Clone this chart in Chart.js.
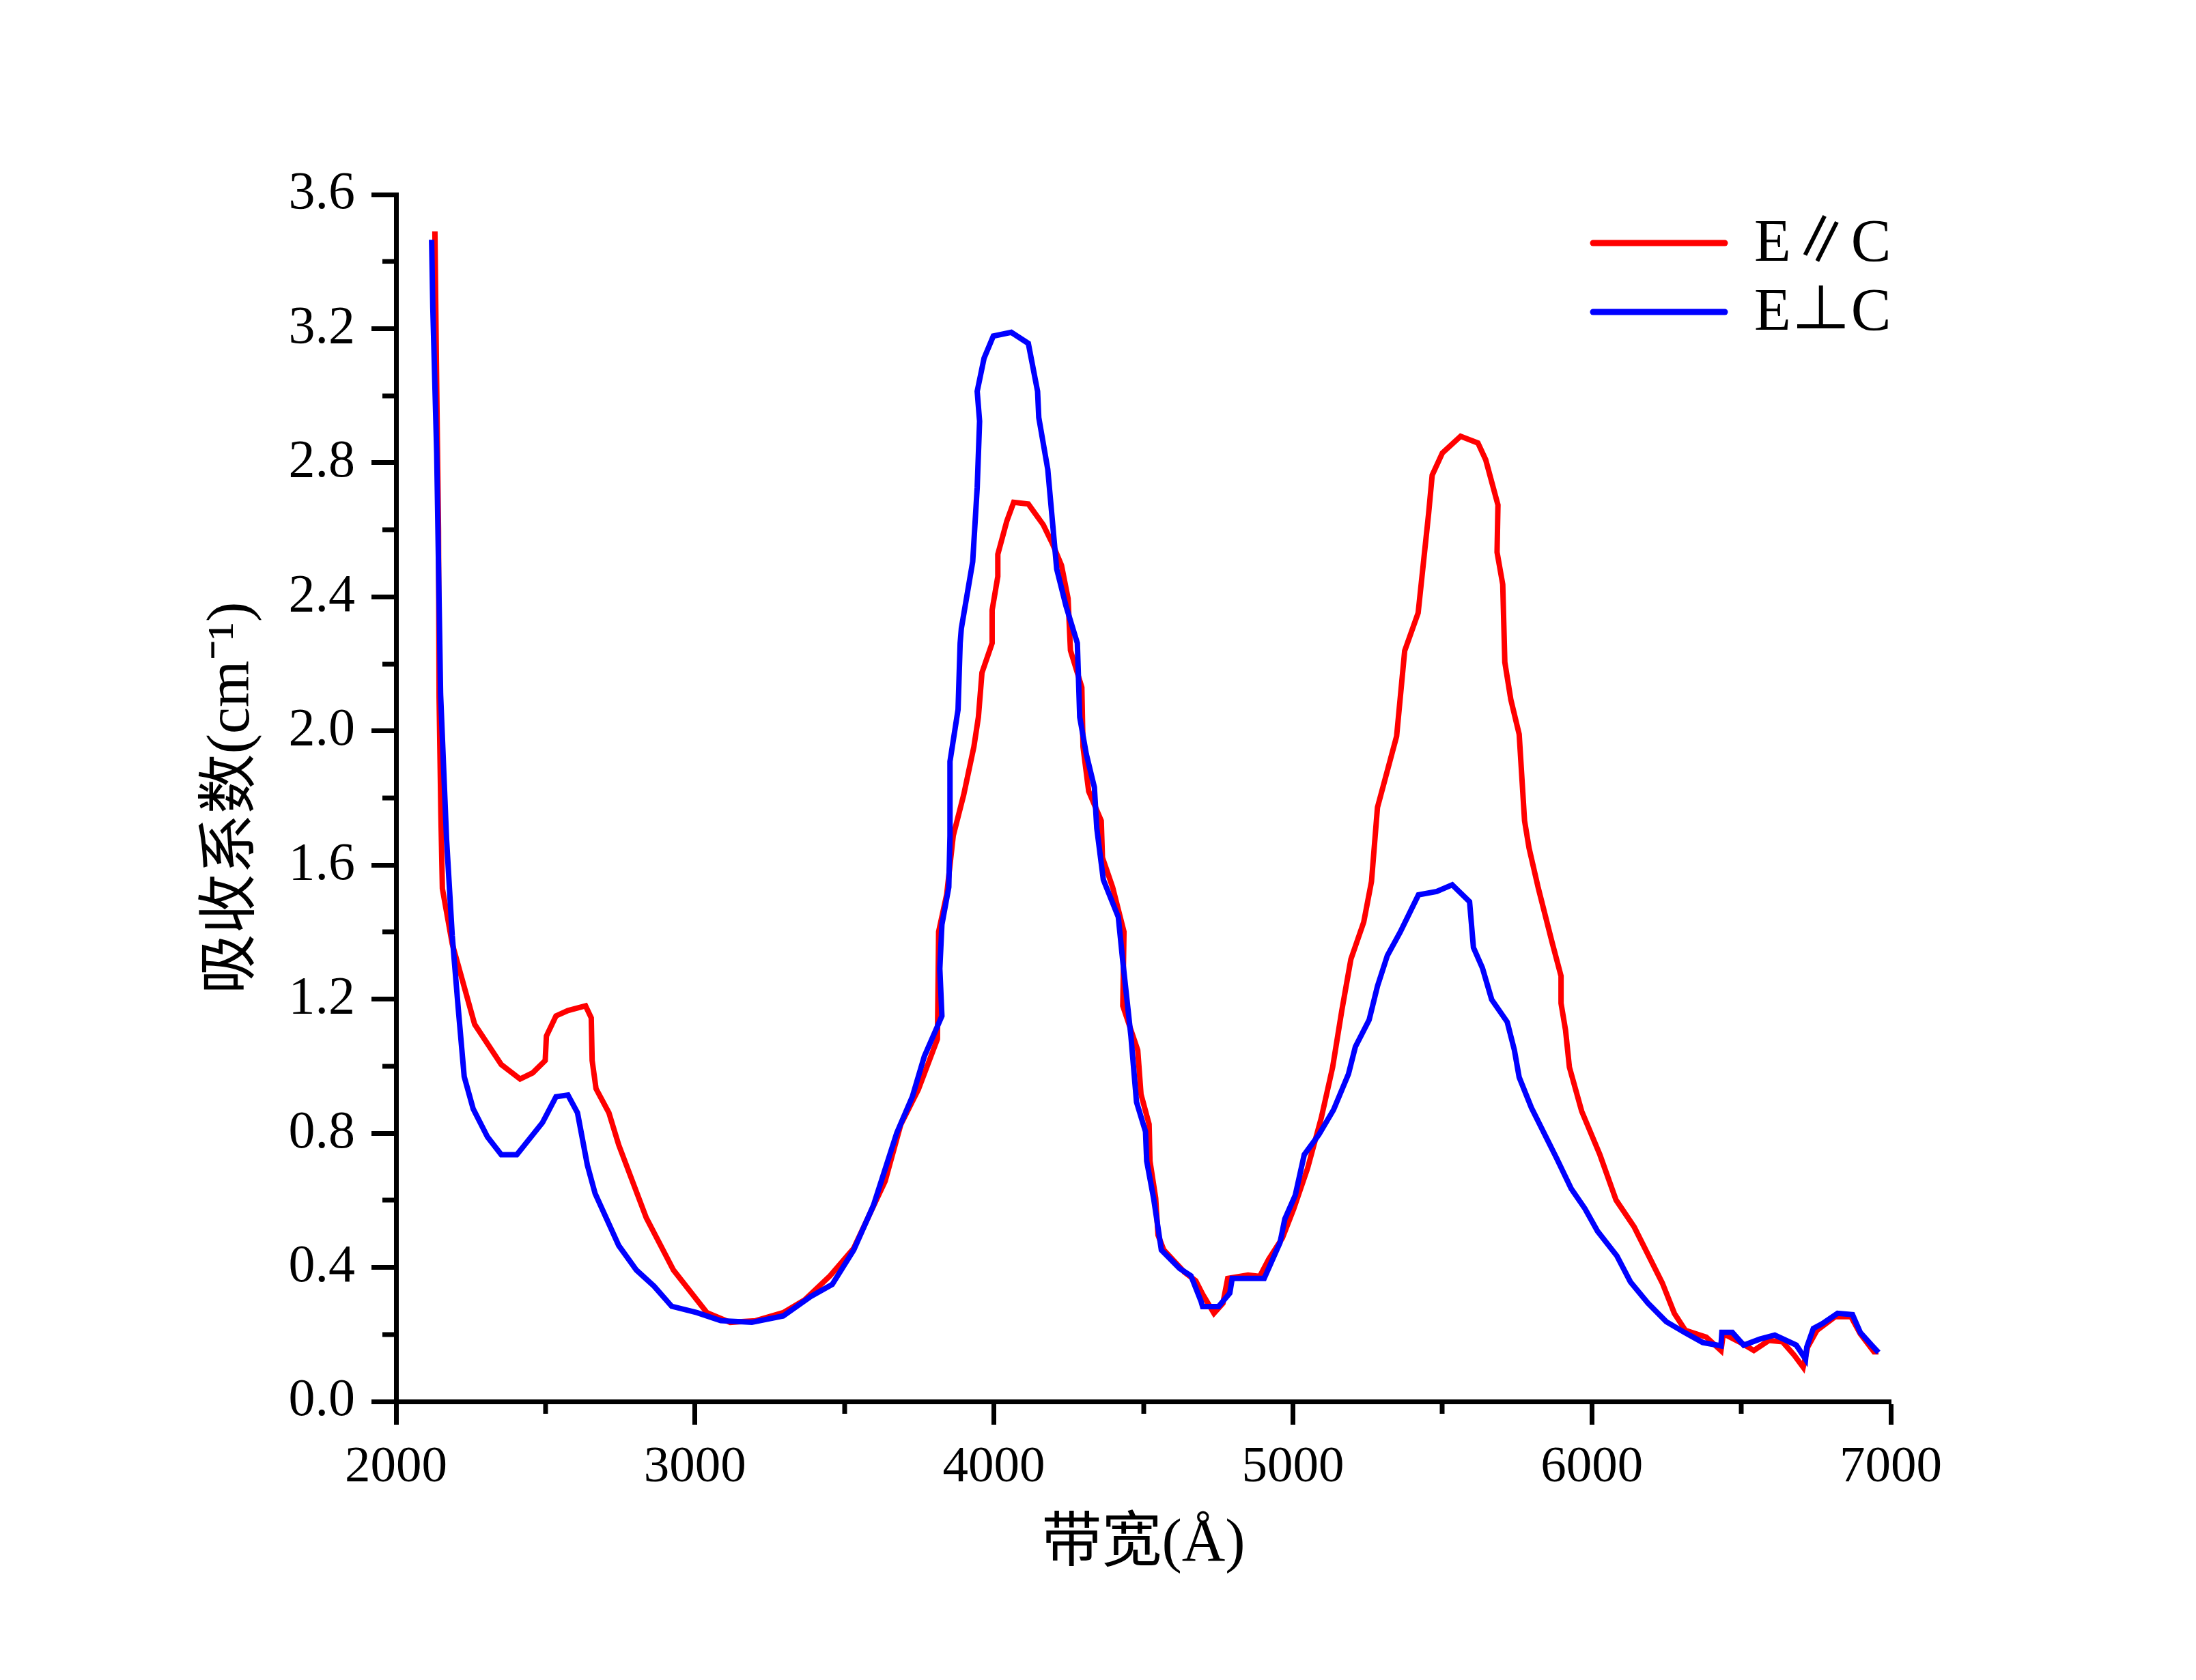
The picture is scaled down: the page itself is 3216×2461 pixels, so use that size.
<!DOCTYPE html>
<html lang="zh">

<head>
    <meta charset="UTF-8">
    <title>吸收系数</title>
    <script src="https://cdn.jsdelivr.net/npm/chart.js"></script>
    <style>
        body { margin: 0; background: #fff; }
    </style>
</head>

<body>
    <canvas id="absChart" width="3216" height="2461"></canvas>
    <script>
        // E//C
        const parX = [2130, 2135, 2142, 2144, 2150, 2155, 2188, 2263, 2352, 2415, 2457, 2499, 2503, 2535, 2575, 2634, 2653, 2656, 2669, 2712,
            2745, 2837, 2928, 3040, 3118, 3203, 3295, 3367, 3452, 3531, 3636, 3688, 3747, 3811, 3815, 3842, 3864, 3899, 3933, 3948,
            3960, 3994, 3994, 4013, 4013, 4043, 4066, 4115, 4165, 4195, 4226, 4248, 4256, 4294, 4298, 4317, 4359, 4363, 4397, 4435,
            4431, 4481, 4492, 4519, 4522, 4541, 4549, 4568, 4637, 4675, 4698, 4736, 4766, 4782, 4850, 4889, 4919, 4965, 5003, 5049,
            5095, 5133, 5164, 5194, 5237, 5263, 5283, 5347, 5374, 5419, 5454, 5466, 5500, 5561, 5619, 5645, 5686, 5683, 5702, 5709,
            5729, 5757, 5775, 5790, 5821, 5867, 5897, 5897, 5912, 5925, 5966, 6027, 6081, 6142, 6236, 6276, 6313, 6383, 6432, 6440,
            6493, 6542, 6592, 6638, 6677, 6707, 6722, 6753, 6814, 6867, 6898, 6944, 6959];
        const parY = [3.49, 3.1, 2.6, 2.1, 1.75, 1.53, 1.365, 1.125, 1.005, 0.962, 0.98, 1.017, 1.09, 1.15, 1.166, 1.18, 1.144, 1.017, 0.933, 0.861,
            0.765, 0.548, 0.392, 0.265, 0.236, 0.241, 0.265, 0.303, 0.375, 0.457, 0.657, 0.825, 0.93, 1.081, 1.401, 1.512, 1.688, 1.81, 1.953, 2.041,
            2.174, 2.262, 2.361, 2.461, 2.527, 2.626, 2.682, 2.677, 2.615, 2.56, 2.494, 2.395, 2.24, 2.13, 1.953, 1.82, 1.732, 1.622, 1.534, 1.401,
            1.18, 1.048, 0.916, 0.827, 0.717, 0.607, 0.496, 0.452, 0.386, 0.36, 0.32, 0.263, 0.293, 0.367, 0.377, 0.373, 0.424, 0.488, 0.575, 0.695,
            0.846, 0.997, 1.168, 1.319, 1.43, 1.551, 1.772, 1.984, 2.239, 2.352, 2.648, 2.763, 2.829, 2.879, 2.859, 2.809, 2.674, 2.533, 2.437, 2.205,
            2.094, 1.99, 1.732, 1.651, 1.531, 1.37, 1.269, 1.188, 1.108, 0.997, 0.866, 0.736, 0.601, 0.52, 0.353, 0.263, 0.212, 0.192, 0.152, 0.202,
            0.178, 0.152, 0.182, 0.178, 0.138, 0.102, 0.162, 0.212, 0.253, 0.253, 0.202, 0.148, 0.148];

        // E⊥C
        const perpX = [2119, 2123, 2136, 2149, 2169, 2188, 2208, 2228, 2258, 2306, 2352, 2404, 2490, 2535, 2575, 2607, 2640, 2666, 2745, 2804,
            2863, 2922, 3007, 3086, 3190, 3295, 3387, 3459, 3531, 3597, 3675, 3727, 3767, 3826, 3819, 3826, 3849, 3853, 3853, 3880,
            3887, 3891, 3929, 3944, 3952, 3944, 3967, 3998, 4058, 4115, 4146, 4150, 4180, 4210, 4241, 4279, 4287, 4309, 4336, 4344,
            4366, 4416, 4431, 4458, 4477, 4507, 4511, 4534, 4560, 4621, 4659, 4693, 4698, 4751, 4789, 4797, 4904, 4957, 4973, 5008,
            5038, 5087, 5136, 5186, 5209, 5255, 5283, 5316, 5359, 5420, 5481, 5533, 5591, 5604, 5634, 5665, 5717, 5741, 5757, 5798,
            5882, 5931, 5977, 6019, 6084, 6129, 6188, 6249, 6310, 6371, 6432, 6435, 6470, 6508, 6562, 6612, 6684, 6715, 6719, 6741,
            6771, 6822, 6872, 6898, 6936, 6959];
        const perpY = [3.465, 3.263, 2.83, 2.11, 1.677, 1.389, 1.173, 0.969, 0.873, 0.789, 0.736, 0.736, 0.832, 0.909, 0.914, 0.861, 0.705, 0.62, 0.465, 0.392,
            0.344, 0.284, 0.265, 0.241, 0.236, 0.255, 0.313, 0.349, 0.452, 0.585, 0.801, 0.909, 1.029, 1.15, 1.291, 1.423, 1.534, 1.688, 1.909, 2.064,
            2.262, 2.306, 2.505, 2.726, 2.924, 3.013, 3.112, 3.178, 3.189, 3.156, 3.013, 2.935, 2.781, 2.483, 2.373, 2.262, 2.041, 1.931, 1.832, 1.71,
            1.556, 1.445, 1.313, 1.092, 0.893, 0.805, 0.717, 0.607, 0.452, 0.397, 0.375, 0.298, 0.283, 0.283, 0.323, 0.367, 0.367, 0.474, 0.544, 0.615,
            0.736, 0.796, 0.87, 0.977, 1.058, 1.138, 1.239, 1.33, 1.4, 1.511, 1.521, 1.541, 1.491, 1.354, 1.293, 1.199, 1.132, 1.048, 0.967, 0.876,
            0.726, 0.635, 0.575, 0.508, 0.434, 0.357, 0.293, 0.238, 0.206, 0.176, 0.166, 0.206, 0.206, 0.168, 0.186, 0.198, 0.168, 0.126, 0.162, 0.218,
            0.232, 0.263, 0.259, 0.206, 0.168, 0.146];

        const seriesNames = ['E∥C', 'E⊥C'];
        const seriesColors = ['#ff0000', '#0000ff'];

        const fontFamily = "'Liberation Serif', 'Noto Sans CJK SC', serif";

        const toPoints = (xs, ys) => xs.map((x, i) => ({ x: x, y: ys[i] }));

        const isMajorX = v => v % 1000 === 0;
        const isMajorY = v => Math.round(v * 10) % 4 === 0;

        // short ticks between the labelled ones
        const minorTicks = {
            id: 'minorTicks',
            afterDraw(chart) {
                const ctx = chart.ctx;
                const xs = chart.scales.x, ys = chart.scales.y;
                ctx.save();
                ctx.strokeStyle = '#000';
                ctx.lineWidth = 7;
                xs.ticks.filter(t => !isMajorX(t.value)).forEach(t => {
                    const px = Math.round(xs.getPixelForValue(t.value));
                    ctx.beginPath();
                    ctx.moveTo(px, xs.top);
                    ctx.lineTo(px, xs.top + 18);
                    ctx.stroke();
                });
                ys.ticks.filter(t => !isMajorY(t.value)).forEach(t => {
                    const py = Math.round(ys.getPixelForValue(t.value));
                    ctx.beginPath();
                    ctx.moveTo(ys.right, py);
                    ctx.lineTo(ys.right - 20, py);
                    ctx.stroke();
                });
                ctx.restore();
            }
        };

        // legend drawn inside the plot, top right
        const innerLegend = {
            id: 'innerLegend',
            afterDraw(chart) {
                const ctx = chart.ctx;
                const area = chart.chartArea;
                const x0 = area.right - 436, x1 = area.right - 243, tx = area.right - 200;
                ctx.save();
                ctx.font = '88px ' + fontFamily;
                ctx.textBaseline = 'middle';
                ctx.fillStyle = '#000';
                chart.data.datasets.forEach((ds, i) => {
                    const y = area.top + 71 + i * 101;
                    ctx.strokeStyle = ds.borderColor;
                    ctx.lineWidth = 9;
                    ctx.lineCap = 'round';
                    ctx.beginPath();
                    ctx.moveTo(x0, y);
                    ctx.lineTo(x1, y);
                    ctx.stroke();
                    ctx.fillText(ds.label, tx, y + 3);
                });
                ctx.restore();
            }
        };

        const data = {
            datasets: [{
                label: seriesNames[0],
                data: toPoints(parX, parY),
                borderColor: seriesColors[0],
                order: 2
            }, {
                label: seriesNames[1],
                data: toPoints(perpX, perpY),
                borderColor: seriesColors[1],
                order: 1
            }]
        };

        const config = {
            type: 'line',
            data: data,
            options: {
                responsive: false,
                animation: false,
                devicePixelRatio: 1,
                layout: {
                    padding: { left: 288, right: 447, top: 285, bottom: 145 }
                },
                elements: {
                    line: { borderWidth: 8, tension: 0, fill: false },
                    point: { radius: 0 }
                },
                plugins: {
                    legend: { display: false },
                    tooltip: { enabled: false }
                },
                scales: {
                    x: {
                        type: 'linear',
                        min: 2000,
                        max: 7000,
                        afterFit: s => { s.height = 263; },
                        border: { display: true, color: '#000', width: 7 },
                        grid: {
                            drawOnChartArea: false,
                            tickLength: 34,
                            tickWidth: 7,
                            tickColor: c => isMajorX(c.tick.value) ? '#000' : 'rgba(0,0,0,0)'
                        },
                        ticks: {
                            stepSize: 500,
                            autoSkip: false,
                            maxRotation: 0,
                            padding: 18,
                            color: '#000',
                            font: { family: fontFamily, size: 75 },
                            callback: v => isMajorX(v) ? String(v) : ''
                        },
                        title: {
                            display: true,
                            text: '带宽(Å)',
                            color: '#000',
                            padding: 0,
                            font: { family: fontFamily, size: 88 }
                        }
                    },
                    y: {
                        min: 0,
                        max: 3.6,
                        afterFit: s => { s.width = 578 - 286; },
                        border: { display: true, color: '#000', width: 7 },
                        grid: {
                            drawOnChartArea: false,
                            tickLength: 36,
                            tickWidth: 7,
                            tickColor: c => isMajorY(c.tick.value) ? '#000' : 'rgba(0,0,0,0)'
                        },
                        ticks: {
                            stepSize: 0.2,
                            autoSkip: false,
                            padding: 24,
                            color: '#000',
                            font: { family: fontFamily, size: 78 },
                            callback: v => isMajorY(v) ? v.toFixed(1) : ''
                        },
                        title: {
                            display: true,
                            text: '吸收系数(cm⁻¹)',
                            color: '#000',
                            padding: 0,
                            font: { family: fontFamily, size: 88 }
                        }
                    }
                }
            },
            plugins: [minorTicks, innerLegend]
        };

        const ctx = document.querySelector('#absChart').getContext('2d');
        const absChart = new Chart(ctx, config);
    </script>
</body>

</html>
